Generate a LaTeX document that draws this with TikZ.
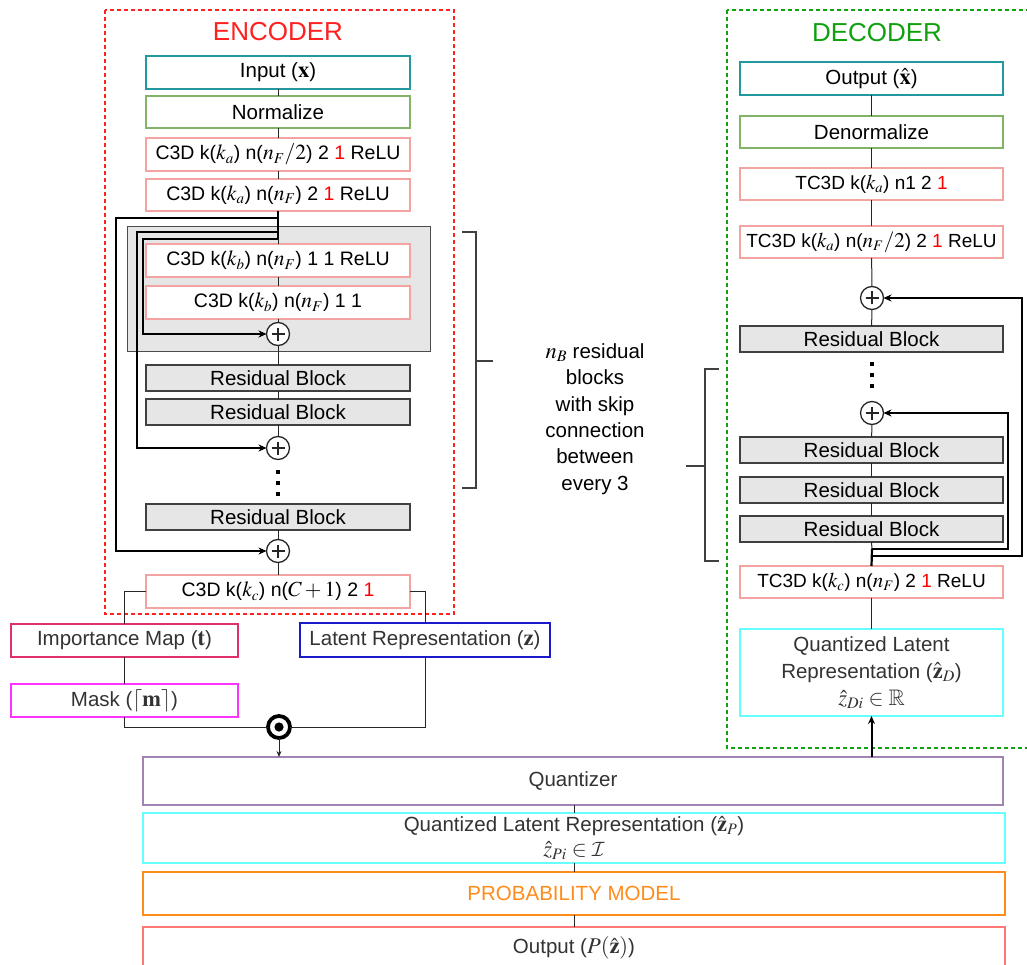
\documentclass[tikz,border=0pt]{standalone}
\usepackage{amssymb}
\usepackage{mathptmx}
\usepackage[no-math]{fontspec}
\setmainfont{Liberation Sans}
\DeclareMathAlphabet{\mathcalcm}{OMS}{cmsy}{m}{n}
\DeclareMathSizes{20.5}{22.5}{16}{12}
\DeclareMathSizes{19.5}{21.5}{15}{11}
\DeclareMathSizes{19}{21}{14.5}{11}
\usetikzlibrary{arrows.meta}
\definecolor{encred}{HTML}{FF2020}
\definecolor{decgreen}{HTML}{10A010}
\definecolor{tealc}{HTML}{23989F}
\definecolor{greenc}{HTML}{82B366}
\definecolor{pinkc}{HTML}{F4A3A3}
\definecolor{grayc}{HTML}{E6E6E6}
\definecolor{impc}{HTML}{E0306A}
\definecolor{maskc}{HTML}{FF33FF}
\definecolor{latc}{HTML}{1A1ACC}
\definecolor{quantc}{HTML}{A083B3}
\definecolor{cyanc}{HTML}{66FFFF}
\definecolor{orangec}{HTML}{FF8C1A}
\definecolor{outpc}{HTML}{FF7777}
\definecolor{txtgray}{HTML}{333333}
\newcommand\myfs{\fontsize{20.5}{24}\selectfont}
\newcommand\mysmfs{\fontsize{19.5}{24}\selectfont}
\newcommand\mytcfs{\fontsize{19}{24}\selectfont}
\newcommand\mkbox[7]{\node[#1,minimum width={(#4-#2)*1pt},minimum height={(#5-#3)*1pt}] (#6) at ({(#2+#4)/2},{(#3+#5)/2}) {#7};}
\tikzset{
  base/.style={draw, inner sep=0pt, outer sep=0pt, line width=1.1pt, fill=white, font=\myfs},
  layer/.style={base, draw=pinkc, font=\mysmfs},
  tlayer/.style={base, draw=pinkc, font=\mytcfs},
  res/.style={base, fill=grayc, draw=black!75},
  plus/.style={circle, draw=black!85, line width=1.3pt, minimum size=23pt, inner sep=0pt, outer sep=0pt, fill=white,
    path picture={\draw[line width=1.3pt] ([xshift=-6.5pt]path picture bounding box.center) -- ([xshift=6.5pt]path picture bounding box.center)
      ([yshift=-6.5pt]path picture bounding box.center) -- ([yshift=6.5pt]path picture bounding box.center);}},
  odotc/.style={circle, draw=black, line width=3.8pt, minimum size=22pt, inner sep=0pt, outer sep=0pt, fill=white,
    path picture={\fill[black] (path picture bounding box.center) circle (4.6pt);}},
  conn/.style={line width=1pt, black!85},
  skip/.style={line width=2.2pt, black, -{Stealth[length=8pt,width=7pt]}},
  thk/.style={line width=2.2pt, black},
  brk/.style={line width=1.5pt, black!75},
  dotsq/.style={fill=black},
}
\begin{document}
\begin{tikzpicture}[x=1pt,y=-1pt]
\useasboundingbox (0,0) rectangle (1027,965);
% containers
\draw[encred, line width=1.2pt, dash pattern=on 4pt off 3pt] (105,10) rectangle (454,614);
\draw[decgreen, line width=1.2pt, dash pattern=on 4pt off 3pt] (727,10) rectangle (1040,748);
\node[text=encred, font=\fontsize{26}{30}\selectfont] (enct) at (278,32) {ENCODER};
\node[text=decgreen, font=\fontsize{26}{30}\selectfont] (dect) at (877,33) {DECODER};
% encoder
\mkbox{base, draw=tealc}{146}{56}{410}{89}{inp}{Input ($\mathbf{x}$)}
\mkbox{base, draw=greenc}{146}{96}{410}{128}{norm}{Normalize}
\mkbox{layer}{146}{138}{410}{171}{c1}{C3D k($k_a$) n($n_F/2$) 2 \textcolor{red}{1} ReLU}
\mkbox{layer}{146}{179}{410}{211}{c2}{C3D k($k_a$) n($n_F$) 2 \textcolor{red}{1} ReLU}
\mkbox{base, fill=grayc, draw=black!70, line width=1pt}{127}{227}{430}{351}{grp}{}
\mkbox{layer}{146}{244}{410}{277}{kb1}{C3D k($k_b$) n($n_F$) 1 1 ReLU}
\mkbox{layer}{146}{286}{410}{319}{kb2}{C3D k($k_b$) n($n_F$) 1 1}
\node[plus] (p1) at (278,334) {};
\mkbox{res}{146}{365}{410}{391}{rb1}{Residual Block}
\mkbox{res}{146}{399}{410}{425}{rb2}{Residual Block}
\node[plus] (p2) at (278,448) {};
\fill[dotsq] (276,470) rectangle (280,474);
\fill[dotsq] (276,481) rectangle (280,485);
\fill[dotsq] (276,492) rectangle (280,496);
\mkbox{res}{146}{504}{410}{530}{rb3}{Residual Block}
\node[plus] (p3) at (278,551) {};
\mkbox{layer}{146}{575}{410}{608}{kc}{C3D k($k_c$) n($C+1$) 2 \textcolor{red}{1}}
% encoder connectors
\draw[conn] (inp) -- (norm);
\draw[conn] (norm) -- (c1);
\draw[conn] (c1) -- (c2);
\coordinate (s1) at (278,218);
\coordinate (s2) at (278,232);
\coordinate (s3) at (278,239);
\draw[thk] (c2.south) -- (s3);
\draw[conn] (s3) -- (kb1.north);
\draw[conn] (kb1) -- (kb2);
\draw[conn] (kb2) -- (p1);
\draw[conn] (p1) -- (rb1);
\draw[conn] (rb1) -- (rb2);
\draw[conn] (rb2) -- (p2);
\draw[conn] (rb3) -- (p3);
\draw[conn] (p3) -- (kc);
\draw[skip] (s1) -- (116,218) |- (p3.west);
\draw[skip] (s2) -- (137,232) |- (p2.west);
\draw[skip] (s3) -- (143,239) |- (p1.west);
% bracket and note
\draw[brk] (462,232) -- (476,232) -- (476,488) -- (462,488);
\draw[brk] (476,361) -- (493,361);
\node[font=\fontsize{20.5}{26.4}\selectfont, align=center] (note) at (595,419) {$n_B$ residual\\blocks\\with skip\\connection\\between\\every 3};
\draw[brk] (719,369) -- (705,369) -- (705,561) -- (719,561);
\draw[brk] (705,466) -- (686,466);
% bottom left
\mkbox{base, draw=impc, text=txtgray}{11}{624}{238}{657}{imp}{Importance Map ($\mathbf{t}$)}
\mkbox{base, draw=maskc, text=txtgray}{11}{684}{238}{717}{mask}{Mask ($\lceil \mathbf{m} \rceil$)}
\mkbox{base, draw=latc, text=txtgray}{300}{623}{550}{657}{lat}{Latent Representation ($\mathbf{z}$)}
\node[odotc] (od) at (279,727) {};
\draw[conn] (kc.west) -| (imp.north);
\draw[conn] (imp) -- (mask);
\draw[conn] (mask.south) |- (od.west);
\draw[conn] (kc.east) -| (lat.north);
\draw[conn] (lat.south) |- (od.east);
% bottom
\mkbox{base, draw=quantc, text=txtgray}{143}{757}{1003}{805}{quant}{Quantizer}
\mkbox{base, draw=cyanc, text=txtgray, align=center, font=\fontsize{20.5}{25}\selectfont}{143}{813}{1005}{863}{qlrp}{Quantized Latent Representation ($\hat{\mathbf{z}}_P$)\\$\hat{z}_{Pi}\in\mathcalcm{I}$}
\mkbox{base, draw=orangec, text=orangec}{143}{872}{1005}{915}{pm}{PROBABILITY MODEL}
\mkbox{base, draw=outpc, text=txtgray}{143}{927}{1005}{969}{outp}{Output ($P(\hat{\mathbf{z}})$)}
\draw[conn, -{Stealth[length=6pt,width=5pt]}] (od.south) -- (od.south |- quant.north);
\draw[conn] (quant.south -| qlrp.north) -- (qlrp.north);
\draw[conn] (qlrp) -- (pm);
\draw[conn] (pm) -- (outp);
% decoder
\mkbox{base, draw=tealc}{740}{62}{1003}{95}{outd}{Output ($\hat{\mathbf{x}}$)}
\mkbox{base, draw=greenc}{740}{116}{1003}{148}{denorm}{Denormalize}
\mkbox{tlayer}{740}{168}{1003}{200}{t1}{TC3D k($k_a$) n1 2 \textcolor{red}{1}}
\mkbox{tlayer}{740}{226}{1003}{258}{t2}{TC3D k($k_a$) n($n_F/2$) 2 \textcolor{red}{1} ReLU}
\node[plus] (pd1) at (872,298) {};
\mkbox{res}{740}{326}{1003}{352}{rd1}{Residual Block}
\fill[dotsq] (870,362) rectangle (874,366);
\fill[dotsq] (870,373) rectangle (874,377);
\fill[dotsq] (870,384) rectangle (874,388);
\node[plus] (pd2) at (872,413) {};
\mkbox{res}{740}{437}{1003}{463}{rd2}{Residual Block}
\mkbox{res}{740}{477}{1003}{503}{rd3}{Residual Block}
\mkbox{res}{740}{516}{1003}{542}{rd4}{Residual Block}
\mkbox{tlayer}{740}{566}{1003}{598}{tk}{TC3D k($k_c$) n($n_F$) 2 \textcolor{red}{1} ReLU}
\mkbox{base, draw=cyanc, text=txtgray, align=center, font=\fontsize{20.5}{27}\selectfont}{740}{629}{1003}{716}{qd}{Quantized Latent\\Representation ($\hat{\mathbf{z}}_D$)\\$\hat{z}_{Di}\in\mathbb{R}$}
% decoder connectors
\draw[conn] (outd) -- (denorm);
\draw[conn] (denorm) -- (t1);
\draw[conn] (t1) -- (t2);
\draw[conn] (t2) -- (pd1);
\draw[conn] (pd1) -- (rd1);
\draw[conn] (pd2) -- (rd2);
\draw[conn] (rd2) -- (rd3);
\draw[conn] (rd3) -- (rd4);
\coordinate (d1) at (872,549);
\coordinate (d2) at (872,556);
\draw[conn] (rd4.south) -- (d1);
\draw[thk] (tk.north) -- (d1);
\draw[skip] (d1) -- (1008,549) |- (pd2.east);
\draw[skip] (d2) -- (1022,556) |- (pd1.east);
\draw[conn] (tk) -- (qd);
\draw[line width=2pt, -{Stealth[length=8pt,width=7pt]}] (qd.south |- quant.north) -- (qd.south);
\end{tikzpicture}
\end{document}
